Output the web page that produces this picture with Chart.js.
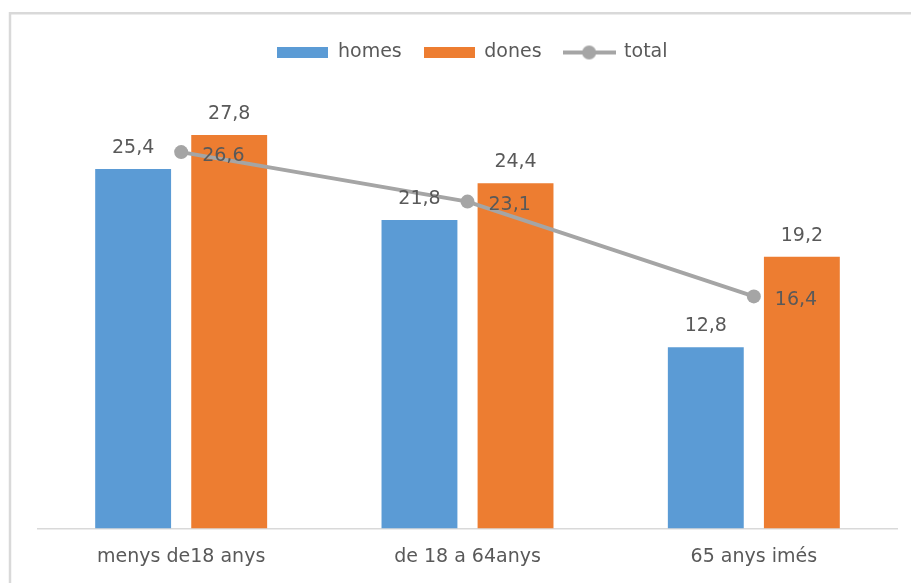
<!DOCTYPE html>
<html><head><meta charset="utf-8">
<script src="https://cdn.jsdelivr.net/npm/chart.js@4/dist/chart.umd.min.js"></script>
<style>html,body{margin:0;padding:0;background:#fff}#wrap{width:911px;height:583px;position:relative}</style>
</head><body><div id="wrap"><canvas id="c" width="911" height="583"></canvas></div>
<script>
// ---- data ----
const categories = ['menys de18 anys', 'de 18 a 64anys', '65 anys imés'];
const seriesNames = ['homes', 'dones', 'total'];
const homes = [25.4, 21.8, 12.8];
const dones = [27.8, 24.4, 19.2];
const total = [26.6, 23.1, 16.4];
const yMin = 0;
const yMax = 30;

// ---- style ----
const FONT = '"DejaVu Sans"';
const FS = 19;
const TXT = '#595959';
const BLUE = '#5B9BD5', ORANGE = '#ED7D31', GRAY = '#A5A5A5';

function fmt(v){ return v.toFixed(1).replace('.', ','); }

function boxImg(color){
  const c = document.createElement('canvas'); c.width = 51; c.height = 11;
  const x = c.getContext('2d'); x.fillStyle = color; x.fillRect(0,0,51,11); return c;
}
function lineImg(color){
  const c = document.createElement('canvas'); c.width = 53; c.height = 16;
  const x = c.getContext('2d');
  x.strokeStyle = color; x.lineWidth = 4; x.beginPath(); x.moveTo(0,8); x.lineTo(53,8); x.stroke();
  x.fillStyle = color; x.beginPath(); x.arc(26.5,8,7,0,Math.PI*2); x.fill();
  return c;
}
const legendImgs = [boxImg(BLUE), boxImg(ORANGE), lineImg(GRAY)];

const frame = {
  id: 'frame',
  beforeDraw(chart){
    const ctx = chart.ctx; ctx.save();
    ctx.strokeStyle = '#D9D9D9'; ctx.lineWidth = 2.5;
    ctx.beginPath(); ctx.moveTo(10, 583); ctx.lineTo(10, 13.3); ctx.lineTo(911, 13.3); ctx.stroke();
    ctx.restore();
  },
  beforeLayout(chart){
    const lg = chart.legend;
    if (lg && !lg._patched){
      const f = lg.fit;
      lg.fit = function(){ f.call(this); this.height += 32; };
      lg._patched = true;
    }
  },
  afterLayout(chart){
    const lg = chart.legend;
    if (lg){ lg.left += 5; lg.right += 5; }
  }
};

const valueLabels = {
  id: 'valueLabels',
  afterDatasetsDraw(chart){
    const ctx = chart.ctx; ctx.save();
    ctx.font = FS + 'px ' + FONT; ctx.fillStyle = TXT; ctx.textBaseline = 'alphabetic';
    chart.data.datasets.forEach((ds, i) => {
      const meta = chart.getDatasetMeta(i);
      meta.data.forEach((el, j) => {
        const t = fmt(ds.data[j]);
        if (ds.type === 'line'){ ctx.textAlign = 'left'; ctx.fillText(t, el.x + 21, el.y + 8.5); }
        else { ctx.textAlign = 'center'; ctx.fillText(t, el.x, el.y - 16); }
      });
    });
    ctx.restore();
  }
};

new Chart(document.getElementById('c'), {
  type: 'bar',
  data: {
    labels: categories,
    datasets: [
      { label: seriesNames[0], data: homes, backgroundColor: BLUE, order: 1,
        categoryPercentage: 0.671, barPercentage: 0.79 },
      { label: seriesNames[1], data: dones, backgroundColor: ORANGE, order: 1,
        categoryPercentage: 0.671, barPercentage: 0.79 },
      { label: seriesNames[2], data: total, type: 'line', order: 0,
        borderColor: GRAY, backgroundColor: GRAY, borderWidth: 4,
        pointRadius: 7, pointBackgroundColor: GRAY, pointBorderWidth: 0, pointHoverRadius: 7 }
    ]
  },
  options: {
    responsive: false, animation: false,
    layout: { padding: { left: 38, right: 14, top: 21, bottom: -3.4 } },
    plugins: {
      tooltip: { enabled: false },
      legend: {
        position: 'top',
        labels: {
          usePointStyle: true, pointStyleWidth: 51, boxHeight: 11, padding: 22,
          color: TXT, font: { family: FONT, size: FS },
          generateLabels(chart){
            return chart.data.datasets.map((ds, i) => ({
              text: ds.label, pointStyle: legendImgs[i], fillStyle: ds.backgroundColor,
              strokeStyle: ds.backgroundColor, lineWidth: 0, hidden: false, datasetIndex: i, fontColor: TXT
            }));
          }
        }
      }
    },
    scales: {
      x: {
        grid: { display: false, drawTicks: false },
        border: { display: true, color: '#D9D9D9', width: 1.5 },
        ticks: { color: TXT, font: { family: FONT, size: FS }, padding: 17.6, maxRotation: 0 }
      },
      y: { display: false, min: yMin, max: yMax }
    }
  },
  plugins: [frame, valueLabels]
});
</script></body></html>
